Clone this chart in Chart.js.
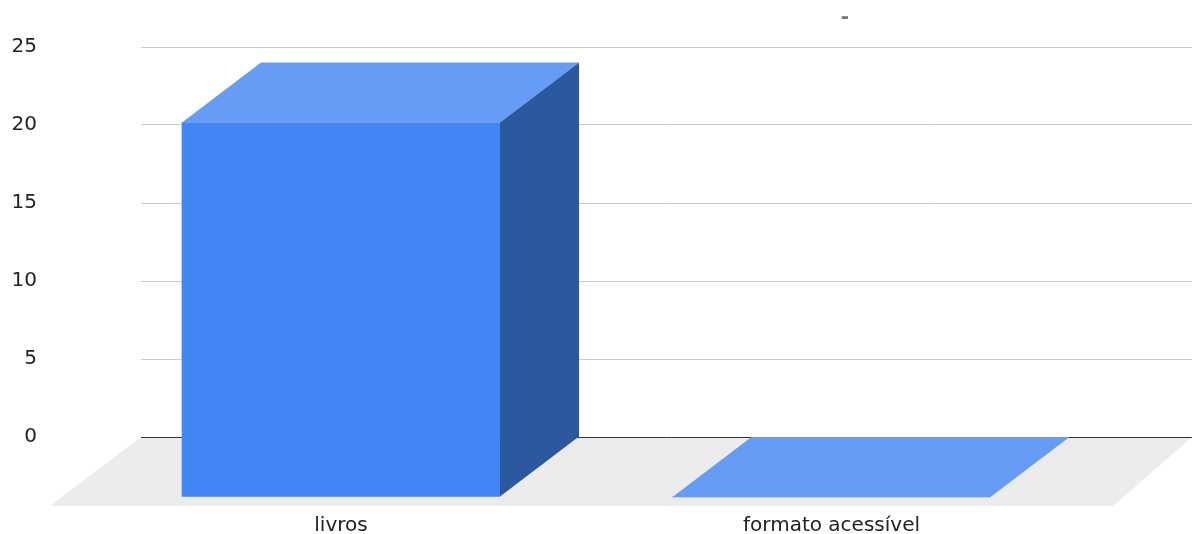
<!DOCTYPE html>
<html>
<head>
<meta charset="utf-8">
<script src="https://cdn.jsdelivr.net/npm/chart.js@4"></script>
<style>
  html, body { margin: 0; padding: 0; background: #fff; overflow: hidden; }
  canvas { display: block; }
</style>
</head>
<body>
<canvas id="myChart" width="1192" height="534"></canvas>
<script>
const categories = ['livros', 'formato acessível'];
const values = [24, 0];
const yTicks = [0, 5, 10, 15, 20, 25];
const chartTitle = '-';

// 3D look (front face shifted from the back plane)
const DX = -79, DY = 60;
const FONT = '"DejaVu Sans", Arial, sans-serif';

const bar3d = {
  id: 'bar3d',
  beforeDatasetsDraw(chart) {
    const { ctx, chartArea: a } = chart;
    ctx.save();
    ctx.fillStyle = '#ececec';
    ctx.beginPath();
    ctx.moveTo(a.left, a.bottom);
    ctx.lineTo(a.right, a.bottom);
    ctx.lineTo(a.right - 79, a.bottom + 69);
    ctx.lineTo(a.left - 91, a.bottom + 69);
    ctx.closePath();
    ctx.fill();
    // zero line on top of floor
    ctx.strokeStyle = '#333';
    ctx.lineWidth = 1;
    ctx.beginPath();
    ctx.moveTo(a.left, a.bottom + 0.5);
    ctx.lineTo(a.right, a.bottom + 0.5);
    ctx.stroke();
    ctx.restore();
  },
  beforeDatasetDraw(chart) {
    chart.ctx.save();
    chart.ctx.translate(DX, DY);
  },
  afterDatasetDraw(chart) {
    chart.ctx.restore();
  },
  afterDatasetsDraw(chart) {
    const { ctx } = chart;
    const meta = chart.getDatasetMeta(0);
    ctx.save();
    meta.data.forEach(el => {
      const l = el.x - el.width / 2, r = el.x + el.width / 2;
      const y = el.y, base = el.base;
      // top face
      ctx.fillStyle = '#679cf6';
      ctx.beginPath();
      ctx.moveTo(l + DX, y + DY);
      ctx.lineTo(r + DX, y + DY);
      ctx.lineTo(r, y);
      ctx.lineTo(l, y);
      ctx.closePath();
      ctx.fill();
      // side face
      if (base - y > 0.5) {
        ctx.fillStyle = '#2c58a0';
        ctx.beginPath();
        ctx.moveTo(r + DX, y + DY);
        ctx.lineTo(r, y);
        ctx.lineTo(r, base);
        ctx.lineTo(r + DX, base + DY);
        ctx.closePath();
        ctx.fill();
      }
    });
    ctx.restore();
  },
  afterDraw(chart) {
    const { ctx } = chart;
    ctx.save();
    ctx.fillStyle = '#757575';
    ctx.font = 'bold 20px ' + FONT;
    ctx.textAlign = 'center';
    ctx.textBaseline = 'middle';
    ctx.fillText(chartTitle, 845, 18);
    ctx.restore();
  }
};

const ctx = document.getElementById('myChart');

new Chart(ctx, {
  type: 'bar',
  data: {
    datasets: [{
      data: values.map((v, i) => ({ x: i, y: v })),
      backgroundColor: '#4285f4',
      borderWidth: 0,
      barThickness: 318,
      clip: false
    }]
  },
  options: {
    animation: false,
    responsive: false,
    layout: { padding: { top: 47, right: 0, left: 0, bottom: 0 } },
    plugins: {
      legend: { display: false },
      title: { display: false },
      tooltip: { enabled: false }
    },
    scales: {
      x: {
        type: 'linear',
        offset: false,
        min: -0.5688,
        max: 1.5739,
        afterBuildTicks: scale => { scale.ticks = categories.map((c, i) => ({ value: i })); },
        afterFit: scale => { scale.height = 97; },
        grid: { display: false, drawTicks: false },
        border: { display: false },
        ticks: {
          callback: v => categories[v],
          labelOffset: DX,
          padding: 77,
          maxRotation: 0,
          autoSkip: false,
          color: '#222',
          font: { family: FONT, size: 20 }
        }
      },
      y: {
        min: 0,
        max: 25,
        afterBuildTicks: scale => { scale.ticks = yTicks.map(v => ({ value: v })); },
        afterFit: scale => { scale.width = 141; },
        grid: {
          color: c => c.tick && c.tick.value === 0 ? '#333' : '#cccccc',
          drawTicks: true,
          tickLength: 100,
          tickColor: 'rgba(0,0,0,0)'
        },
        border: { display: false },
        ticks: {
          padding: 4,
          color: '#222',
          font: { family: FONT, size: 20 }
        }
      }
    }
  },
  plugins: [bar3d]
});
</script>
</body>
</html>
